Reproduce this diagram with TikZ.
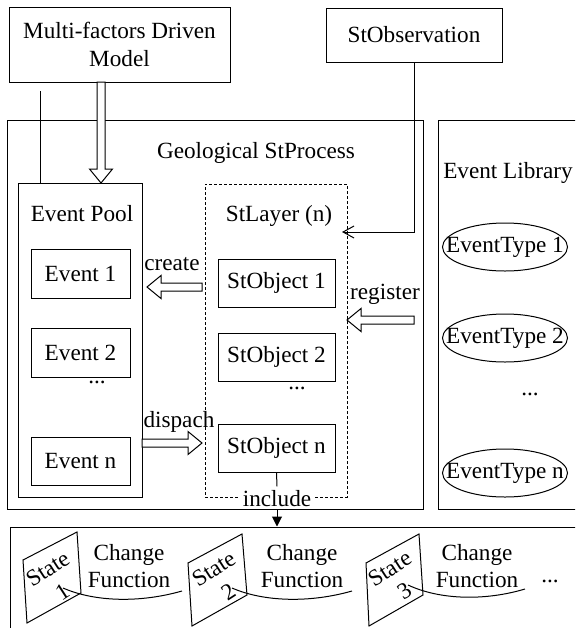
\documentclass[tikz,border=0pt]{standalone}
\usepackage{fontspec}
\setmainfont{Liberation Serif}
\usetikzlibrary{shapes.geometric,arrows.meta,calc}
\newcommand\hollowarrow[3]{%
  \draw[hollow] ([shift={({#3+90}:2pt)}]#1)
   -- ([shift={(#3:-7pt)},shift={({#3+90}:2pt)}]#2)
   -- ([shift={(#3:-7pt)},shift={({#3+90}:5.75pt)}]#2)
   -- (#2)
   -- ([shift={(#3:-7pt)},shift={({#3-90}:5.75pt)}]#2)
   -- ([shift={(#3:-7pt)},shift={({#3-90}:2pt)}]#2)
   -- ([shift={({#3-90}:2pt)}]#1) -- cycle;}
\begin{document}
\begin{tikzpicture}[x=0.5pt,y=-0.5pt, line width=0.5pt,
  font=\rmfamily\fontsize{11.6}{13.6}\selectfont,
  box/.style={draw, inner sep=0pt, align=center},
  dbox/.style={draw, dash pattern=on 1.5pt off 1pt, inner sep=0pt},
  ell/.style={draw, ellipse, inner sep=0pt, minimum width=62.5pt, minimum height=24pt},
  hollow/.style={draw, line width=0.5pt, fill=white},
  txt/.style={anchor=base, inner sep=0pt},
  thinarrow/.style={-{Straight Barb[length=5.5pt,width=6pt]}},
  ]
\clip (0,0) rectangle (575,628);
% top boxes
\node[box, minimum width=110.5pt, minimum height=37.5pt] (model) at (119.5,44.5) {Multi-factors Driven\\Model};
\node[box, minimum width=88pt, minimum height=27pt] (obs) at (414,35) {StObservation};
% big containers
\node[box, minimum width=208pt, minimum height=194.5pt] (geo) at (215,314.5) {};
\node[box, minimum width=91pt, minimum height=194.5pt] (lib) at (529,314.5) {};
\node[box, minimum width=62pt, minimum height=157pt] (pool) at (80,340) {};
\node[dbox, minimum width=71pt, minimum height=156.5pt] (layer) at (276,340.5) {};
\node[box, minimum width=305pt, minimum height=76.5pt] (bottom) at (315,603.5) {};
% titles
\node[txt] (geot) at (256,158) {Geological StProcess};
\node[txt] (poolt) at (82,221) {Event Pool};
\node[txt] (layert) at (279,221) {StLayer (n)};
\node[txt] (libt) at (508,178) {Event Library};
% events
\node[box, minimum width=49.5pt, minimum height=24.5pt] (e1) at (80.5,273.5) {Event 1};
\node[box, minimum width=49.5pt, minimum height=24.5pt] (e2) at (80.5,352.5) {Event 2};
\node[box, minimum width=49.5pt, minimum height=24pt] (en) at (80.5,461) {Event n};
\node[txt] (d1) at (97,383) {...};
% objects
\node[box, minimum width=58.5pt, minimum height=24pt] (o1) at (276.5,283) {StObject 1};
\node[box, minimum width=58.5pt, minimum height=24pt] (o2) at (276.5,357) {StObject 2};
\node[box, minimum width=58.5pt, minimum height=24pt] (on) at (276.5,448) {StObject n};
\node[txt] (d2) at (297,389) {...};
% event types
\node[ell, label={[inner sep=0pt]center:EventType 1}] (t1) at (505,247) {};
\node[ell, label={[inner sep=0pt]center:EventType 2}] (t2) at (505,338) {};
\node[ell, label={[inner sep=0pt]center:EventType n}] (tn) at (505,473) {};
\node[txt] (d3) at (530,395) {...};
% labels
\node[txt] (lcreate) at (172,270) {create};
\node[txt] (lreg) at (385,299) {register};
\node[txt] (ldisp) at (179,427) {dispach};
\node[anchor=base, fill=white, inner sep=1.5pt] (inc) at (277,506) {include};
% connectors
\coordinate (mline) at (40,91);
\draw (mline) -- (mline |- pool.north);
\coordinate (mA) at (101,82);
\coordinate (mB) at (101,183);
\hollowarrow{mA}{mB}{-90}
\coordinate (obsin) at (342,232);
\draw[thinarrow] (obs.south) |- (obsin);
\coordinate (cA) at (202,287);
\coordinate (cB) at (147,287);
\hollowarrow{cA}{cB}{180}
\coordinate (rA) at (414,320);
\coordinate (rB) at (347,320);
\hollowarrow{rA}{rB}{180}
\coordinate (dA) at (142,443);
\coordinate (dB) at (202,443);
\hollowarrow{dA}{dB}{0}
\draw (on.south) -- (inc.north);
\draw[-{Triangle[length=5pt,width=5pt]}] (inc.south) -- (inc.south |- bottom.north);
% states
\draw (23,560) -- (77,532) -- (81,593) -- (27,623) -- cycle;
\draw (188,563) -- (242,534) -- (247,595) -- (192,626) -- cycle;
\draw (366,563) -- (419,534) -- (423,595) -- (369,626) -- cycle;
\node[rotate=33, align=center, inner sep=0pt] (st1) at (55,580) {State\\1};
\node[rotate=33, align=center, inner sep=0pt] (st2) at (221,580) {State\\2};
\node[rotate=33, align=center, inner sep=0pt] (st3) at (397,580) {State\\3};
\node[align=center, inner sep=0pt] (cf1) at (129,566) {Change\\Function};
\node[align=center, inner sep=0pt] (cf2) at (302,566) {Change\\Function};
\node[align=center, inner sep=0pt] (cf3) at (477,566) {Change\\Function};
\node[txt] (d4) at (550,582) {...};
\coordinate (c1s) at (63,588);
\coordinate (c1e) at (182,591);
\coordinate (c2s) at (232,588);
\coordinate (c2e) at (352,591);
\coordinate (c3s) at (408,585);
\coordinate (c3e) at (525,589);
\draw (c1s) .. controls (95,602) and (140,603) .. (c1e);
\draw (c2s) .. controls (264,602) and (310,603) .. (c2e);
\draw (c3s) .. controls (440,600) and (485,601) .. (c3e);
\end{tikzpicture}
\end{document}
